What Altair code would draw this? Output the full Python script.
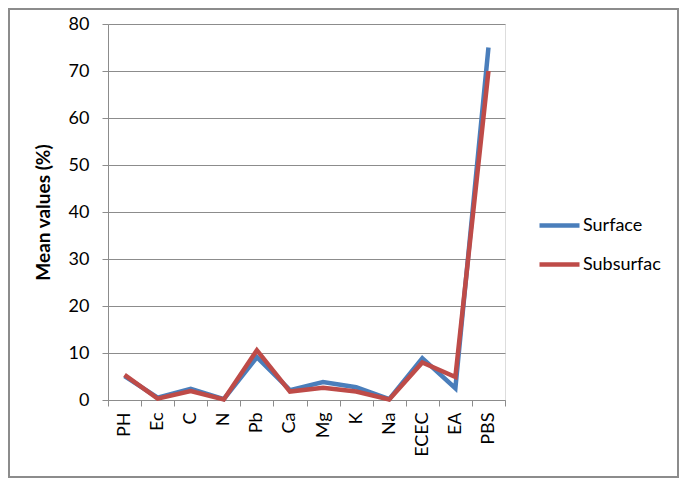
import altair as alt
import pandas as pd

categories = ["PH", "Ec", "C", "N", "Pb", "Ca", "Mg", "K", "Na", "ECEC", "EA", "PBS"]
surface = [5.1, 0.5, 2.4, 0.2, 9.1, 2.1, 3.8, 2.7, 0.2, 8.9, 2.5, 75.0]
subsurface = [5.35, 0.3, 1.9, 0.1, 10.6, 1.8, 2.6, 1.8, 0.1, 8.0, 4.9, 70.0]
series_names = ["Surface", "Subsurfac"]
series_colors = ["#4A7EBB", "#BE4B48"]
y_ticks = [0, 10, 20, 30, 40, 50, 60, 70, 80]

rows = []
for i, c in enumerate(categories):
    rows.append({"cat": c, "val": surface[i], "series": series_names[0], "ord": 0})
    rows.append({"cat": c, "val": subsurface[i], "series": series_names[1], "ord": 1})
df = pd.DataFrame(rows)

W, H = 397, 376
FONT = "Lato"
GRID = "#8C8C8C"
FS = 18

lines = alt.Chart(df).mark_line(strokeWidth=4.5, strokeJoin="miter", clip=False).encode(
    x=alt.X("cat:N", sort=categories, bandPosition=0.5,
            scale=alt.Scale(type="band", paddingInner=0, paddingOuter=0),
            axis=alt.Axis(title=None, labelAngle=-90, labelFontSize=FS, labelFont=FONT,
                          labelColor="#000000", tickBand="extent", tickSize=6,
                          tickColor=GRID, domainColor=GRID, labelPadding=6,
                          grid=False)),
    y=alt.Y("val:Q", scale=alt.Scale(domain=[0, 80], nice=False),
            axis=alt.Axis(title="Mean values (%)", values=y_ticks, titleFontSize=19,
                          titleFont=FONT, titleFontWeight="bold", titleColor="#000000",
                          titlePadding=15, labelFontSize=FS, labelFont=FONT,
                          labelColor="#000000", labelPadding=13, tickSize=6,
                          tickColor=GRID, domainColor=GRID, gridColor=GRID,
                          gridOpacity=1)),
    color=alt.Color("series:N", sort=series_names,
                    scale=alt.Scale(domain=series_names, range=series_colors),
                    legend=alt.Legend(title=None, orient="none", legendX=429, legendY=179,
                                      symbolType="stroke", symbolSize=1600,
                                      symbolStrokeWidth=4.5, labelFontSize=FS,
                                      labelFont=FONT, labelColor="#000000",
                                      labelOffset=1, rowPadding=7, padding=0,
                                      labelLimit=200)),
    order=alt.Order("ord:Q"),
    detail="series:N",
)

border = alt.Chart(pd.DataFrame({"b": [0]})).mark_rect(
    fill=None, stroke="#8C8C8C", strokeWidth=2, clip=False
).encode(
    x=alt.value(-99), x2=alt.value(570), y=alt.value(-15), y2=alt.value(453)
)

chart = alt.layer(lines, border).properties(
    width=W, height=H, padding=0
).configure_view(stroke=None).configure(background="white")

chart.save("out.html", embed_options={"renderer": "svg", "actions": False})
